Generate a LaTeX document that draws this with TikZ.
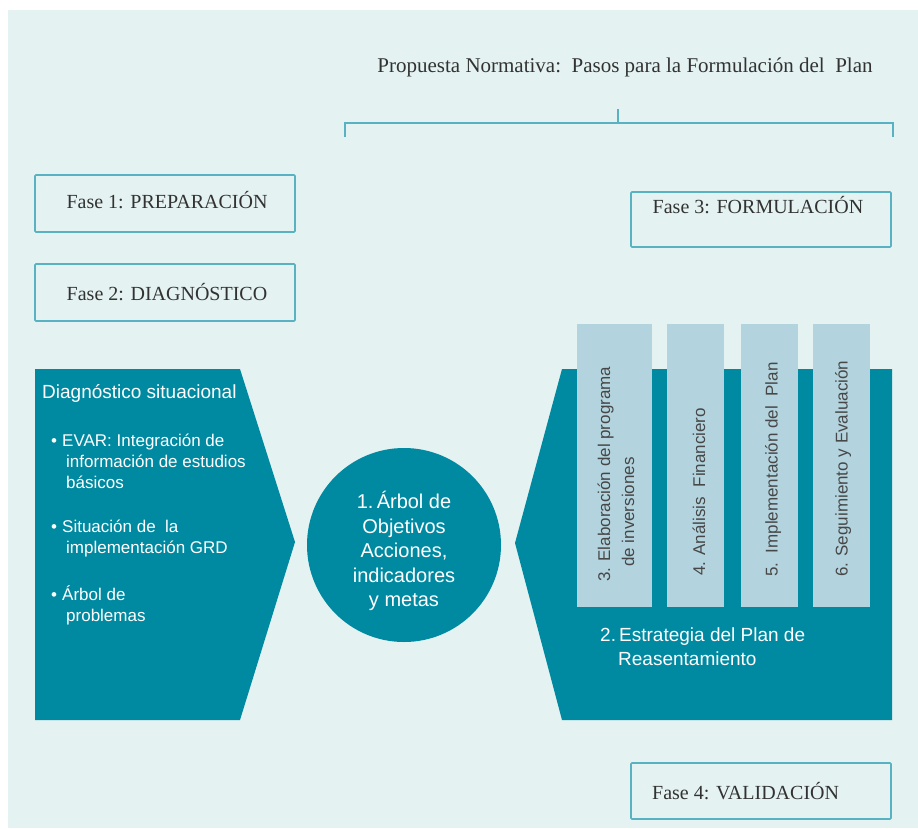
\documentclass[tikz,border=0pt]{standalone}
\usepackage{fontspec}
\setmainfont{Liberation Serif}
\newfontfamily\sansf{Liberation Sans}
\definecolor{bgc}{RGB}{228,242,242}
\definecolor{tealc}{RGB}{0,138,162}
\definecolor{barc}{RGB}{179,212,222}
\definecolor{edgec}{RGB}{88,178,194}
\definecolor{txtc}{RGB}{50,50,50}
\begin{document}
\begin{tikzpicture}[x=1pt,y=-1pt,
  fasebox/.style={draw=edgec,line width=1.6pt,rounded corners=1pt,minimum width=260pt,inner sep=0pt},
  fasetext/.style={text=txtc,font=\fontsize{20}{24}\selectfont,inner sep=0pt},
  bartext/.style={text=black!72,font=\sansf\fontsize{17}{24}\selectfont,rotate=90,anchor=west,inner sep=0pt,align=left},
  whitetext/.style={text=white,inner sep=0pt,align=left},
  bul/.style={whitetext,font=\sansf\fontsize{17}{21}\selectfont,anchor=west}
]
\useasboundingbox (0,0) rectangle (918,828);
\fill[white] (0,0) rectangle (918,828);
\fill[bgc] (8,10) rectangle (918,828);

% title
\node[fasetext,font=\fontsize{21}{24}\selectfont,anchor=base] (title) at (625,72) {Propuesta Normativa:\ \ Pasos para la Formulación del\ \ Plan};

% bracket
\coordinate (bl) at (345,137);
\coordinate (blt) at (345,123);
\coordinate (brt) at (893,123);
\coordinate (br) at (893,137);
\coordinate (bm) at (618,123);
\coordinate (bmt) at (618,109);
\draw[edgec,line width=1.6pt] (bl) -- (blt) -- (brt) -- (br);
\draw[edgec,line width=1.6pt] (bm) -- (bmt);

% fase boxes
\node[fasebox,minimum height=57pt] (f1) at (165,203.5) {};
\node[fasetext] at (167,200) {Fase 1: PREPARACIÓN};
\node[fasebox,minimum height=57pt] (f2) at (165,292.5) {};
\node[fasetext] at (167,292) {Fase 2: DIAGNÓSTICO};
\node[fasebox,minimum height=55pt] (f3) at (761,219.5) {};
\node[fasetext] at (758,205) {Fase 3: FORMULACIÓN};
\node[fasebox,minimum height=56pt] (f4) at (761,791) {};
\node[fasetext,anchor=west] at (652,791) {Fase 4: VALIDACIÓN};

% left arrow shape
\fill[tealc] (35,369) -- (240,369) -- (295,542) -- (240,720) -- (35,720) -- cycle;
\node[whitetext,font=\sansf\fontsize{19}{23}\selectfont,anchor=west] (diag) at (42,393) {Diagnóstico situacional};
\node[bul] (b1) at (48,461) {\makebox[14pt][l]{\,•}EVAR: Integración de\\\hspace*{18pt}información de estudios\\\hspace*{18pt}básicos};
\node[bul] (b2) at (48,538) {\makebox[14pt][l]{\,•}Situación de\ \ la\\\hspace*{18pt}implementación GRD};
\node[bul] (b3) at (48,605) {\makebox[14pt][l]{\,•}Árbol de\\\hspace*{18pt}problemas};

% circle
\node[circle,fill=tealc,minimum size=194pt,inner sep=0pt] (arbol) at (404,545) {};
\node[text=white,align=center,inner sep=0pt,font=\sansf\fontsize{20}{24.5}\selectfont] (arboltxt) at (404,551) {1.\,Árbol de\\Objetivos\\Acciones,\\indicadores\\y metas};

% right shape
\fill[tealc] (562,369) -- (892,369) -- (892,720) -- (562,720) -- (515,543) -- cycle;
\fill[barc] (577,324) rectangle (652,607);
\fill[barc] (667,324) rectangle (724,607);
\fill[barc] (741,324) rectangle (798,607);
\fill[barc] (813,324) rectangle (870,607);
\node[bartext] (t3) at (616,582) {3. Elaboración del programa\\\hspace*{15pt}de inversiones};
\node[bartext] (t4) at (699,576) {4. Análisis\ \ Financiero};
\node[bartext] (t5) at (773,577) {5.\ \ Implementación del\ \ Plan};
\node[bartext] (t6) at (843,577) {6. Seguimiento y Evaluación};
\node[whitetext,font=\sansf\fontsize{19}{24}\selectfont,anchor=west] (estr) at (600,647) {2.\,Estrategia del Plan de\\\hspace*{18pt}Reasentamiento};
\end{tikzpicture}
\end{document}
